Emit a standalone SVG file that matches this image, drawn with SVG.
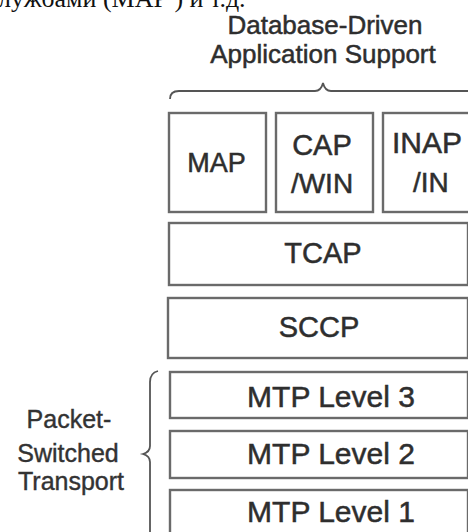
<svg xmlns="http://www.w3.org/2000/svg" width="468" height="532" viewBox="0 0 468 532">
  <style>
    .box { fill: #ffffff; stroke: #6a6a6a; stroke-width: 2.4; }
    .lbl { font-family: "Liberation Sans", Arial, sans-serif; fill: #2e2e2e; stroke: #2e2e2e; stroke-width: 0.5; text-anchor: middle; }
    .side { font-family: "Liberation Sans", Arial, sans-serif; fill: #333333; stroke: #333333; stroke-width: 0.4; text-anchor: middle; font-size: 25px; }
    .brace { fill: none; stroke: #555555; stroke-width: 1.8; }
    .body { font-family: "Liberation Serif", "Times New Roman", serif; fill: #111111; font-size: 26px; }
  </style>
  <rect x="0" y="0" width="468" height="532" fill="#ffffff"/>

  <!-- running text line, clipped at the top edge -->
  <text class="body" x="-2" y="7">лужбами (МАР ) и т.д.</text>

  <!-- heading over the application layer -->
  <g id="app-heading">
    <text class="lbl" x="325" y="34" font-size="26">Database-Driven</text>
    <text class="lbl" x="323" y="63" font-size="26">Application Support</text>
  </g>

  <g id="braces">
    <path class="brace" d="M170,99 Q170,91 179,91 L315,91 Q321,91 323,83 Q325,91 331,91 L470,91"/>
    <path class="brace" d="M158,371 Q150,373 150,382 L150,446 Q150,452 143,454 Q150,456 150,462 L150,534"/>
  </g>

  <g id="transport-label">
    <text class="side" x="69" y="428">Packet-</text>
    <text class="side" x="68" y="462">Switched</text>
    <text class="side" x="71" y="490">Transport</text>
  </g>

  <g id="map">
    <rect class="box" x="169" y="113" width="97" height="99"/>
    <text class="lbl" x="216.5" y="172" font-size="27">MAP</text>
  </g>
  <g id="cap-win">
    <rect class="box" x="276" y="113" width="97" height="99"/>
    <text class="lbl" x="322" y="155" font-size="29">CAP</text>
    <text class="lbl" x="322" y="193" font-size="28">/WIN</text>
  </g>
  <g id="inap-in">
    <rect class="box" x="383" y="113" width="110" height="99"/>
    <text class="lbl" x="392" y="153" font-size="30" style="text-anchor:start">INAP</text>
    <text class="lbl" x="413" y="192" font-size="28" style="text-anchor:start">/IN</text>
  </g>
  <g id="tcap">
    <rect class="box" x="169" y="223" width="299" height="62"/>
    <text class="lbl" x="323" y="263" font-size="29">TCAP</text>
  </g>
  <g id="sccp">
    <rect class="box" x="168" y="298" width="300" height="60"/>
    <text class="lbl" x="319" y="337" font-size="29">SCCP</text>
  </g>
  <g id="mtp3">
    <rect class="box" x="170" y="372" width="298" height="46"/>
    <text class="lbl" x="331" y="407" font-size="30">MTP Level 3</text>
  </g>
  <g id="mtp2">
    <rect class="box" x="170" y="431" width="298" height="47"/>
    <text class="lbl" x="331" y="464" font-size="30">MTP Level 2</text>
  </g>
  <g id="mtp1">
    <rect class="box" x="170" y="490" width="298" height="60"/>
    <text class="lbl" x="331" y="522" font-size="30">MTP Level 1</text>
  </g>
</svg>
